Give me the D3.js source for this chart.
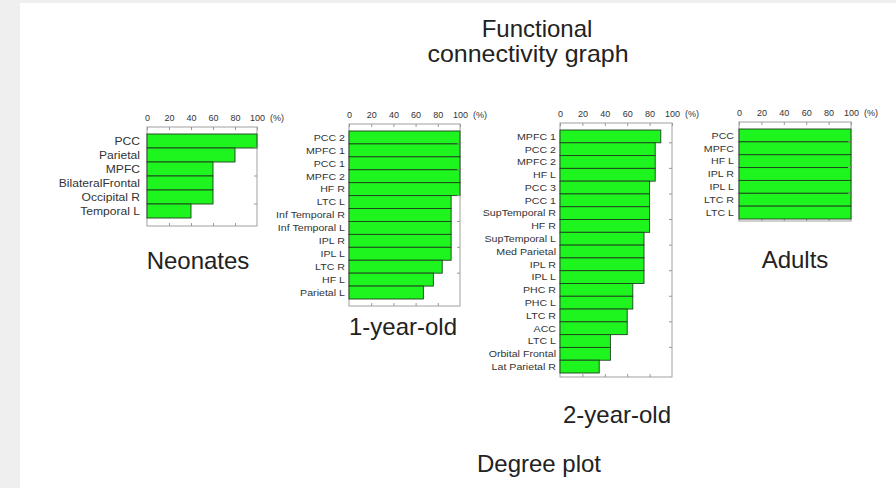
<!DOCTYPE html>
<html lang="en">
<head>
  <meta charset="UTF-8" />
  <title>Degree plot</title>
  <script src="https://d3js.org/d3.v7.min.js"></script>
  <style>
    html, body {
      margin: 0;
      padding: 0;
      background: #fff;
      font-family: "Liberation Sans", Arial, sans-serif;
    }
    svg { display: block; }
  </style>
</head>
<body>
  <svg id="chart"></svg>

  <script>
    // degree (%) per region
    const neonatesRegions = ["PCC", "Parietal", "MPFC", "BilateralFrontal", "Occipital R", "Temporal L"];
    const neonatesDegree = [100, 80, 60, 60, 60, 40];

    const oneYearRegions = ["PCC 2", "MPFC 1", "PCC 1", "MPFC 2", "HF R", "LTC L", "Inf Temporal R",
      "Inf Temporal L", "IPL R", "IPL L", "LTC R", "HF L", "Parietal L"];
    const oneYearDegree = [100, 100, 100, 100, 100, 92, 92, 92, 92, 92, 84, 76, 67];

    const twoYearRegions = ["MPFC 1", "PCC 2", "MPFC 2", "HF L", "PCC 3", "PCC 1", "SupTemporal R", "HF R",
      "SupTemporal L", "Med Parietal", "IPL R", "IPL L", "PHC R", "PHC L", "LTC R", "ACC", "LTC L",
      "Orbital Frontal", "Lat Parietal R"];
    const twoYearDegree = [90, 85, 85, 85, 80, 80, 80, 80, 75, 75, 75, 75, 65, 65, 60, 60, 45, 45, 35];

    const adultsRegions = ["PCC", "MPFC", "HF L", "IPL R", "IPL L", "LTC R", "LTC L"];
    const adultsDegree = [100, 100, 100, 100, 100, 100, 100];

    const xTicks = [0, 20, 40, 60, 80, 100];

    const width = 896, height = 491;

    // panel frames (layout only)
    const panels = [
      { name: "Neonates", regions: neonatesRegions, values: neonatesDegree,
        x0: 147, x1: 257, top: 127, bottom: 226, barTop: 134, barBottom: 218,
        titleX: 198, titleY: 269, fs: 10.8, gap: 7 },
      { name: "1-year-old", regions: oneYearRegions, values: oneYearDegree,
        x0: 349, x1: 460, top: 124, bottom: 306, barTop: 131, barBottom: 299,
        titleX: 403, titleY: 335, fs: 9.5, gap: 4 },
      { name: "2-year-old", regions: twoYearRegions, values: twoYearDegree,
        x0: 560, x1: 672, top: 123, bottom: 377, barTop: 130, barBottom: 373,
        titleX: 617, titleY: 423, fs: 9.5, gap: 4 },
      { name: "Adults", regions: adultsRegions, values: adultsDegree,
        x0: 739, x1: 851, top: 122, bottom: 221, barTop: 129, barBottom: 219,
        titleX: 795, titleY: 268, fs: 9.5, gap: 5 }
    ];

    const svg = d3.select("#chart")
      .attr("width", width)
      .attr("height", height);

    // page edge like the screenshot
    svg.append("rect").attr("width", width).attr("height", height).attr("fill", "#fff");
    svg.append("rect").attr("x", 0).attr("y", 0).attr("width", 20).attr("height", 488).attr("fill", "#efefef");
    svg.append("rect").attr("x", 0).attr("y", 0).attr("width", width).attr("height", 3).attr("fill", "#efefef");

    svg.append("text")
      .attr("x", 537).attr("y", 37)
      .attr("text-anchor", "middle")
      .attr("font-size", "24px")
      .attr("fill", "#222")
      .text("Functional");
    svg.append("text")
      .attr("x", 528).attr("y", 62)
      .attr("text-anchor", "middle")
      .attr("font-size", "24px")
      .attr("fill", "#222")
      .attr("transform", "translate(528,0) scale(1.04,1) translate(-528,0)")
      .text("connectivity graph");

    svg.append("text")
      .attr("x", 539).attr("y", 472)
      .attr("text-anchor", "middle")
      .attr("font-size", "24px")
      .attr("fill", "#222")
      .text("Degree plot");

    panels.forEach(drawPanel);

    function drawPanel(p) {
      const data = p.regions.map((r, i) => ({ region: r, value: p.values[i] }));

      const x = d3.scaleLinear().domain([0, 100]).range([p.x0, p.x1]);
      const y = d3.scaleBand().domain(p.regions).range([p.barTop, p.barBottom]).padding(0);

      const g = svg.append("g");

      g.append("rect")
        .attr("x", p.x0).attr("y", p.top)
        .attr("width", p.x1 - p.x0).attr("height", p.bottom - p.top)
        .attr("fill", "#fff")
        .attr("stroke", "#a0a0a0")
        .attr("stroke-width", 1);

      const top = g.append("g")
        .attr("transform", `translate(0,${p.top})`)
        .call(d3.axisTop(x).tickValues(xTicks).tickSizeInner(-3).tickSizeOuter(0).tickPadding(6));
      top.select(".domain").remove();
      top.selectAll("line").attr("stroke", "#999");
      top.selectAll("text")
        .attr("font-size", "9px")
        .attr("font-family", "'Liberation Sans', Arial, sans-serif")
        .attr("fill", "#333");

      g.append("text")
        .attr("x", p.x1 + 20).attr("y", p.top - 6)
        .attr("text-anchor", "middle")
        .attr("font-size", "9px")
        .attr("fill", "#333")
        .text("(%)");

      const bottom = g.append("g")
        .attr("transform", `translate(0,${p.bottom})`)
        .call(d3.axisBottom(x).tickValues(xTicks.slice(1, -1)).tickSizeInner(-3).tickSizeOuter(0).tickFormat(""));
      bottom.select(".domain").remove();
      bottom.selectAll("line").attr("stroke", "#999");

      g.append("g")
        .selectAll("rect")
        .data(data)
        .join("rect")
        .attr("x", x(0))
        .attr("y", d => y(d.region))
        .attr("width", d => x(d.value) - x(0))
        .attr("height", y.bandwidth())
        .attr("fill", "#1ef51e")
        .attr("stroke", "#1f3f1f")
        .attr("stroke-width", 0.9);

      // right-edge ticks every other row
      g.append("g")
        .selectAll("line")
        .data(p.regions.filter((d, i) => i % 2 === 1))
        .join("line")
        .attr("x1", p.x1).attr("x2", p.x1 - 3)
        .attr("y1", d => y(d)).attr("y2", d => y(d))
        .attr("stroke", "#999");

      g.append("g")
        .selectAll("text")
        .data(data)
        .join("text")
        .attr("transform", d => `translate(${p.x0 - p.gap},${y(d.region) + y.bandwidth() / 2}) scale(1.12,1)`)
        .attr("dy", "0.35em")
        .attr("text-anchor", "end")
        .attr("font-size", p.fs + "px")
        .attr("fill", "#333")
        .text(d => d.region);

      g.append("text")
        .attr("x", p.titleX).attr("y", p.titleY)
        .attr("text-anchor", "middle")
        .attr("font-size", "24px")
        .attr("fill", "#222")
        .text(p.name);
    }
  </script>
</body>
</html>
